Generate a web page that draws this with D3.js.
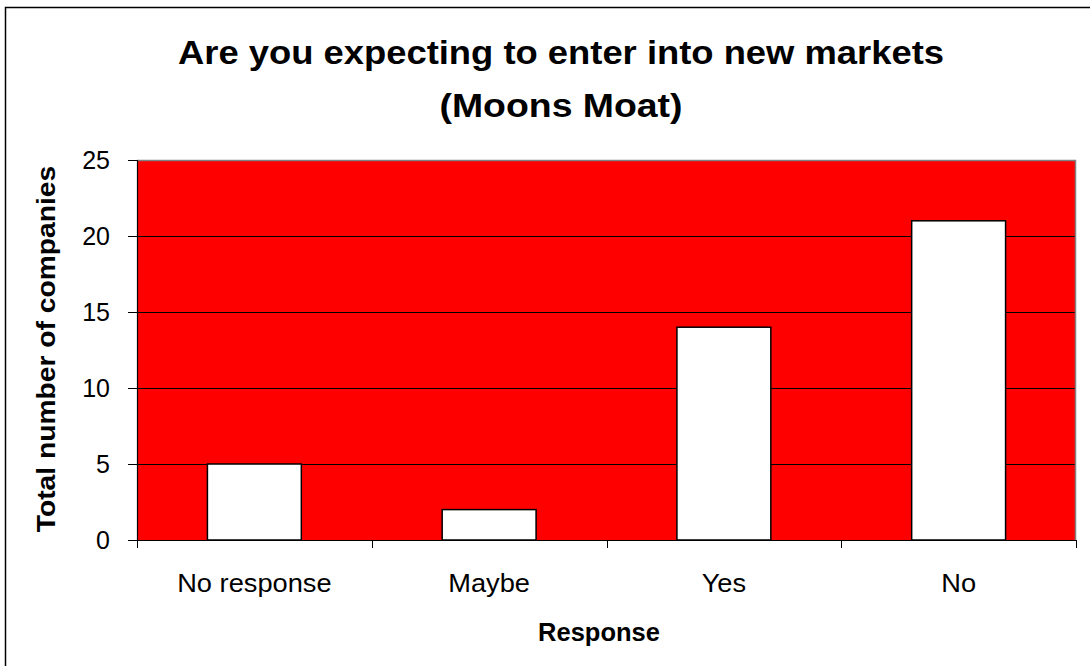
<!DOCTYPE html>
<html>
<head>
<meta charset="utf-8">
<script src="https://d3js.org/d3.v7.min.js"></script>
<style>
  html, body { margin: 0; padding: 0; background: #fff; }
  svg { display: block; font-family: "Liberation Sans", Arial, sans-serif; }
</style>
</head>
<body>
<svg id="chart" width="1090" height="666"></svg>
<script>
const categories = ["No response", "Maybe", "Yes", "No"];
const values = [5, 2, 14, 21];
const yTicks = [0, 5, 10, 15, 20, 25];
const titleLines = ["Are you expecting to enter into new markets", "(Moons Moat)"];
const xTitle = "Response";
const yTitle = "Total number of companies";

const svg = d3.select("#chart");
const plot = { left: 137, top: 160, right: 1076, bottom: 540 };
const FONT = "Liberation Sans, Arial, sans-serif";

// outer frame (extends past the visible area on right/bottom)
svg.append("rect")
  .attr("x", 5.5).attr("y", 7.5)
  .attr("width", 1200).attr("height", 800)
  .attr("fill", "#fff").attr("stroke", "#000").attr("stroke-width", 1.5);

const x = d3.scaleBand().domain(categories)
  .range([plot.left, plot.right]).paddingInner(0.6).paddingOuter(0.3);
const y = d3.scaleLinear().domain([0, 25]).range([plot.bottom, plot.top]);

// plot background
svg.append("rect")
  .attr("x", plot.left).attr("y", plot.top)
  .attr("width", plot.right - plot.left).attr("height", plot.bottom - plot.top)
  .attr("fill", "#ff0000");

// gridlines
svg.append("g").selectAll("line")
  .data(yTicks.filter(t => t > 0 && t < 25))
  .join("line")
  .attr("x1", plot.left).attr("x2", plot.right)
  .attr("y1", d => Math.round(y(d)) + 0.5).attr("y2", d => Math.round(y(d)) + 0.5)
  .attr("stroke", "#000").attr("stroke-width", 1);

// top and right border (gray)
svg.append("path")
  .attr("d", `M${plot.left},${plot.top + 0.5}H${plot.right - 0.5}V${plot.bottom}`)
  .attr("fill", "none").attr("stroke", "#808080").attr("stroke-width", 1.5);

// bars
svg.append("g").selectAll("rect")
  .data(values)
  .join("rect")
  .attr("x", (d, i) => x(categories[i]))
  .attr("y", d => y(d))
  .attr("width", x.bandwidth())
  .attr("height", d => y(0) - y(d))
  .attr("fill", "#fff").attr("stroke", "#000").attr("stroke-width", 1.5);

// y axis
const yAxis = d3.axisLeft(y).tickValues(yTicks).tickSize(9).tickPadding(18).tickFormat(d3.format("d"));
const gy = svg.append("g").attr("transform", `translate(${plot.left},0)`).call(yAxis);
gy.select(".domain").attr("stroke", "#000").attr("stroke-width", 1.2);
gy.selectAll(".tick line").attr("stroke", "#000");
gy.selectAll(".tick text").attr("font-size", 25).attr("fill", "#000").attr("font-family", FONT);

// x axis line and boundary ticks
const xAxis = d3.axisBottom(x).tickSize(0).tickPadding(0);
const gx = svg.append("g").attr("transform", `translate(0,${plot.bottom})`).call(xAxis);
gx.select(".domain").attr("stroke", "#000").attr("stroke-width", 1.2);
gx.selectAll(".tick text")
  .attr("font-size", 25).attr("fill", "#000").attr("font-family", FONT)
  .attr("y", 0).attr("dy", 0)
  .attr("transform", "translate(0,52) scale(1.09,1)");
const boundaries = categories.map(c => x(c) - x.step() * x.paddingOuter()).concat([plot.right]);
gx.append("g").selectAll("line").data(boundaries).join("line")
  .attr("x1", d => Math.round(d) + 0.5).attr("x2", d => Math.round(d) + 0.5)
  .attr("y1", 0).attr("y2", 8).attr("stroke", "#000");

// titles
const tcx = 561;
svg.append("text")
  .attr("transform", `translate(${tcx},64) scale(1.07,1)`)
  .attr("text-anchor", "middle").attr("font-size", 34).attr("font-weight", "bold")
  .text(titleLines[0]);
svg.append("text")
  .attr("transform", `translate(${tcx},117) scale(1.1,1)`)
  .attr("text-anchor", "middle").attr("font-size", 34).attr("font-weight", "bold")
  .text(titleLines[1]);

svg.append("text")
  .attr("transform", `translate(599,641) scale(1.02,1)`)
  .attr("text-anchor", "middle").attr("font-size", 25).attr("font-weight", "bold")
  .text(xTitle);

svg.append("text")
  .attr("transform", `translate(55,${(plot.top + plot.bottom) / 2 - 1}) rotate(-90) scale(1.13,1)`)
  .attr("text-anchor", "middle").attr("font-size", 25).attr("font-weight", "bold")
  .text(yTitle);
</script>
</body>
</html>
